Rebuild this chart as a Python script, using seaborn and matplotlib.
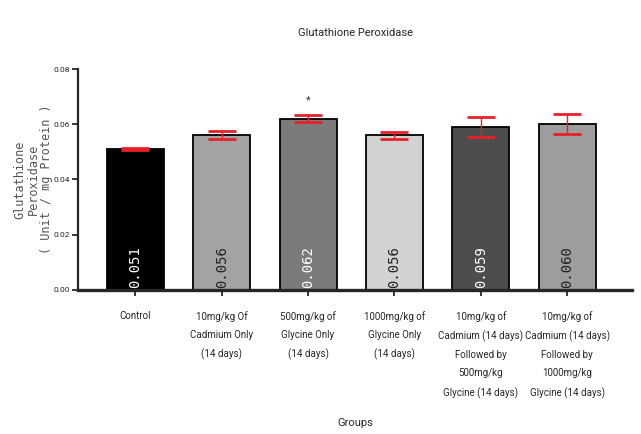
import matplotlib
matplotlib.use("Agg")
import matplotlib.pyplot as plt
import seaborn as sns
import pandas as pd

# Group names, means (Unit / mg protein) and SEM
groups = [
    "Control",
    "10mg/kg Of\nCadmium Only\n(14 days)",
    "500mg/kg of\nGlycine Only\n(14 days)",
    "1000mg/kg of\nGlycine Only\n(14 days)",
    "10mg/kg of\nCadmium (14 days)\nFollowed by\n500mg/kg\nGlycine (14 days)",
    "10mg/kg of\nCadmium (14 days)\nFollowed by\n1000mg/kg\nGlycine (14 days)",
]
means = [0.051, 0.056, 0.062, 0.056, 0.059, 0.060]
sem = [0.0005, 0.0015, 0.0012, 0.0012, 0.0036, 0.0036]
bar_colors = ["#000000", "#a3a3a3", "#7b7b7b", "#d2d2d2", "#4d4d4d", "#9d9d9d"]
label_colors = ["white", "#222222", "white", "#222222", "white", "#222222"]
y_ticks = [0.00, 0.02, 0.04, 0.06, 0.08]
y_tick_labels = ["0.00", "0.02", "0.04", "0.06", "0.08"]

sns.set_style("ticks")
plt.rcParams["font.family"] = ["Roboto", "DejaVu Sans"]

df = pd.DataFrame({"group": groups, "mean": means})

fig = plt.figure(figsize=(6.41, 4.34), dpi=100)
ax = fig.add_axes([0.122, 0.332, 0.864, 0.509])

sns.barplot(data=df, x="group", y="mean", hue="group", palette=bar_colors,
            legend=False, errorbar=None, width=0.66, edgecolor="black",
            linewidth=1.3, ax=ax, zorder=2)

xs = list(range(len(groups)))
ax.errorbar(xs, means, yerr=sem, fmt="none", ecolor="#e8202a", elinewidth=1.0,
            capsize=10, capthick=2.0, zorder=3)

for x, m, c in zip(xs, means, label_colors):
    ax.text(x, 0.0007, f"{m:.3f}", rotation=90, ha="center", va="bottom",
            color=c, fontsize=10, family="DejaVu Sans Mono", zorder=4)

# significance marker over the 500 mg/kg glycine group
ax.text(2, means[2] + sem[2] + 0.0055, "*", ha="center", va="center",
        fontsize=8, color="#333333")

ax.set_xlim(-0.66, 5.75)
ax.set_ylim(0, 0.08)
ax.set_yticks(y_ticks)
ax.set_yticklabels(y_tick_labels, fontsize=6)
ax.tick_params(axis="x", length=4, width=1.3, pad=11)
ax.tick_params(axis="y", length=4, width=1.3, pad=2)
for lbl in ax.get_xticklabels():
    lbl.set_fontsize(7)
    lbl.set_linespacing(2.0)
ax.spines["left"].set_linewidth(1.6)
ax.spines["bottom"].set_linewidth(2.4)
sns.despine(ax=ax)

ax.set_xlabel("Groups", fontsize=8, labelpad=14)
ax.set_ylabel("Glutathione\nPeroxidase\n( Unit / mg Protein )", fontsize=8.5,
              labelpad=0, family="DejaVu Sans Mono", linespacing=1.05,
              color="#555555")
ax.set_title("Glutathione Peroxidase", fontsize=8, pad=24)

fig.savefig("out.png", dpi=100)
